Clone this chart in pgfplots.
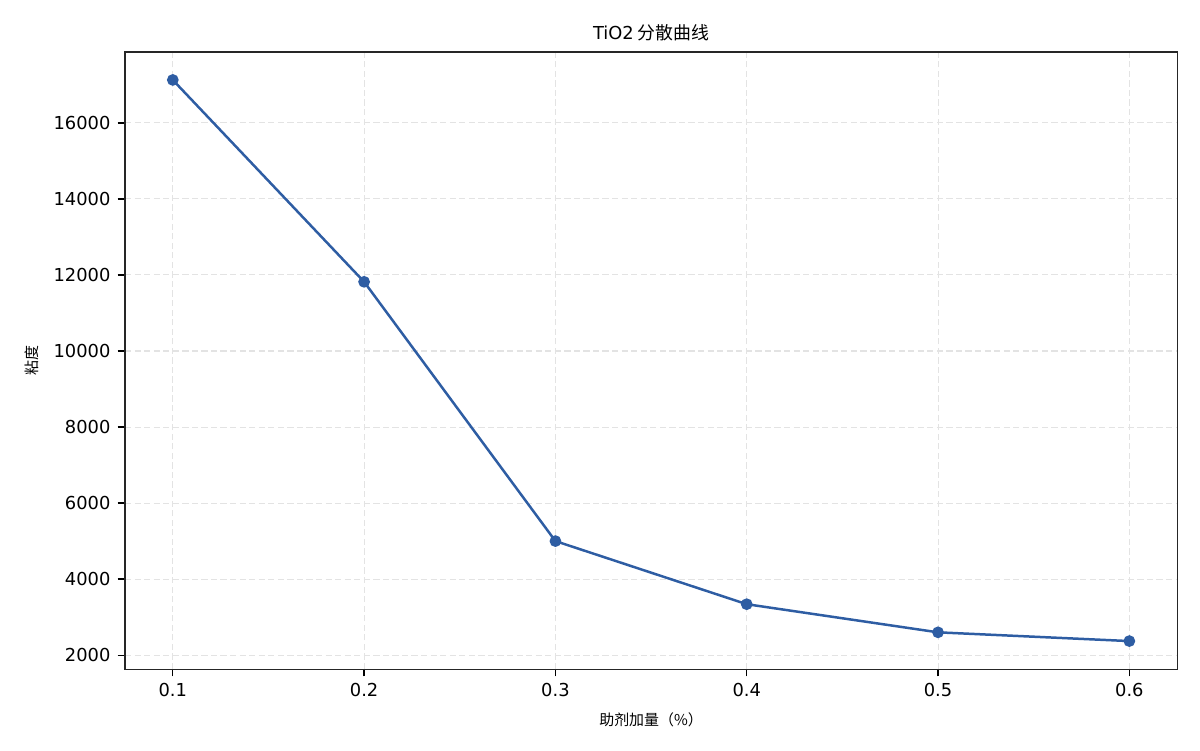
\documentclass[border=0pt]{standalone}
\usepackage{pgfplots}
\pgfplotsset{compat=1.18}
\usepackage{fontspec}
\setmainfont{Noto Sans CJK SC}
\newfontfamily\lat{DejaVu Sans}
\definecolor{lineblue}{HTML}{2E5DA3}
\begin{document}
\begin{tikzpicture}
\path[use as bounding box] (-60.2pt,-39pt) rectangle (517.8pt,322.3pt);
\begin{axis}[
  at={(0,0)}, anchor=south west,
  scale only axis,
  width=506.8pt, height=297.3pt,
  xmin=0.075, xmax=0.625,
  ymin=1632, ymax=17868,
  scaled y ticks=false,
  xtick={0.1,0.2,0.3,0.4,0.5,0.6},
  xticklabels={0.1,0.2,0.3,0.4,0.5,0.6},
  ytick={2000,4000,6000,8000,10000,12000,14000,16000},
  yticklabels={2000,4000,6000,8000,10000,12000,14000,16000},
  tick align=outside,
  tick pos=left,
  major tick length=3.5pt,
  tick style={black, line width=0.6pt},
  axis line style={black!85, line width=0.6pt},
  ticklabel style={font=\lat\fontsize{8.6}{10}\selectfont},
  grid=major,
  grid style={dash pattern=on 3pt off 1.6pt, gray!22, line width=0.5pt},
  title={{\lat TiO2} 分散曲线},
  title style={font=\fontsize{8.6}{10}\selectfont, yshift=-4.4pt},
  xlabel={助剂加量（\%）},
  ylabel={粘度},
  label style={font=\fontsize{7.2}{9}\selectfont},
  xlabel style={yshift=-0.4pt},
  ylabel style={yshift=0.4pt},
]
\addplot[color=lineblue, line width=1.2pt, mark=*, mark size=2.2pt, mark options={fill=lineblue, draw=lineblue}]
coordinates {
(0.1,17130) (0.2,11820) (0.3,5000) (0.4,3340) (0.5,2600) (0.6,2370)
};
\end{axis}
\end{tikzpicture}
\end{document}
